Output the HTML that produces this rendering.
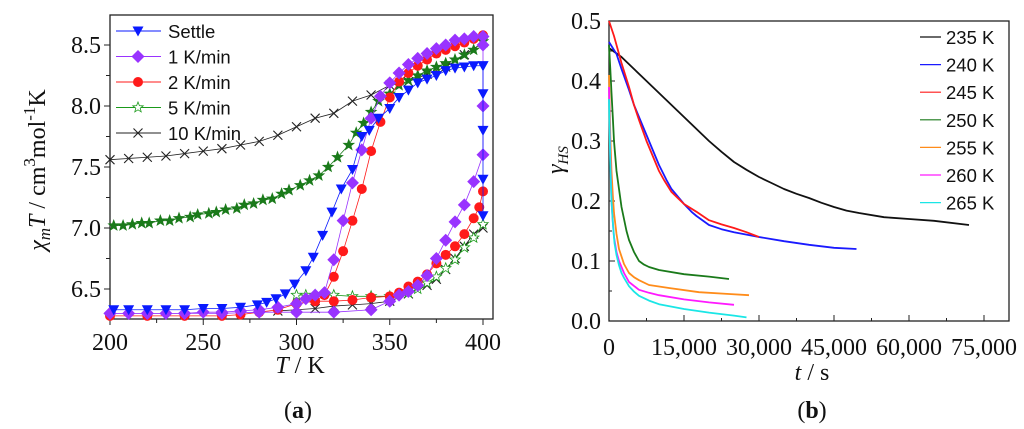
<!DOCTYPE html>
<html><head><meta charset="utf-8"><style>
body{margin:0;background:#fff;width:1024px;height:429px;overflow:hidden}
svg{display:block}
.t{font-family:"Liberation Serif",serif;font-size:24px;fill:#111}
.s{font-family:"Liberation Sans",sans-serif;font-size:18.5px;fill:#111}
</style></head><body>
<svg id="c" width="1024" height="429">
<g id="ga"></g>
<g id="gb"></g>
</svg>
<script>
// ---- Panel (a) data: [T, chiT]
const aXTicks=[200,250,300,350,400];
const aYTicks=[6.5,7.0,7.5,8.0,8.5];
const settleCool=[[400,8.33],[395,8.33],[390,8.32],[385,8.31],[380,8.29],[375,8.25],[370,8.22],[365,8.19],[360,8.13],[355,8.07],[350,7.98],[344,7.90],[339,7.80],[335,7.75],[330,7.48],[324,7.32],[319,7.13],[314,6.94],[309,6.76],[305,6.65],[299,6.54],[294,6.46],[289,6.42],[284,6.39],[279,6.37],[270,6.35],[260,6.34],[250,6.34],[240,6.33],[230,6.33],[220,6.33],[210,6.33],[202,6.33]];
const settleVert=[[400,7.10],[400,7.4],[400,7.8],[400,8.1],[400,8.33]];
const k1Heat=[[200,6.30],[220,6.30],[240,6.30],[260,6.30],[280,6.31],[300,6.31],[320,6.31],[340,6.33],[350,6.40],[355,6.45],[360,6.48],[365,6.53],[370,6.61],[375,6.75],[380,6.90],[385,7.05],[390,7.19],[395,7.38],[400,7.6],[400,8.0],[400,8.5]];
const k1Cool=[[400,8.57],[395,8.57],[390,8.55],[385,8.54],[380,8.50],[375,8.47],[370,8.43],[365,8.39],[360,8.34],[355,8.27],[350,8.19],[345,8.08],[340,7.90],[335,7.64],[330,7.37],[325,7.06],[320,6.74],[315,6.47],[310,6.45],[305,6.42],[300,6.38],[290,6.35],[280,6.33],[270,6.32],[260,6.31],[250,6.31],[240,6.30],[230,6.30],[220,6.30],[210,6.30],[200,6.30]];
const k2Cool=[[400,8.58],[395,8.55],[390,8.52],[385,8.49],[380,8.46],[375,8.43],[370,8.38],[365,8.33],[360,8.27],[355,8.20],[350,8.07],[345,7.87],[340,7.63],[335,7.32],[330,7.06],[325,6.81],[320,6.60],[315,6.45],[310,6.40],[300,6.38],[290,6.33],[280,6.31],[270,6.29],[260,6.28],[240,6.28],[220,6.28],[200,6.28]];
const k2Heat=[[300,6.38],[310,6.40],[320,6.40],[330,6.41],[340,6.43],[350,6.44],[355,6.47],[360,6.52],[365,6.56],[370,6.62],[375,6.71],[380,6.78],[385,6.85],[390,6.95],[395,7.08],[398,7.17],[400,7.3]];
const k5Cool=[[400,8.53],[395,8.46],[390,8.42],[385,8.38],[380,8.35],[375,8.32],[370,8.29],[365,8.25],[360,8.21],[355,8.17],[350,8.10],[344,8.04],[340,7.95],[336,7.86],[332,7.78],[328,7.68],[322,7.58],[317,7.50],[312,7.43],[307,7.39],[302,7.35],[296,7.31],[292,7.28],[287,7.24],[282,7.23],[277,7.20],[272,7.19],[268,7.16],[262,7.15],[257,7.13],[253,7.12],[247,7.11],[243,7.09],[237,7.08],[232,7.06],[227,7.06],[221,7.04],[217,7.04],[212,7.03],[207,7.02],[202,7.02]];
const k5Heat=[[300,6.45],[305,6.45],[310,6.45],[320,6.45],[330,6.44],[340,6.44],[350,6.44],[360,6.47],[365,6.50],[370,6.55],[375,6.60],[380,6.67],[385,6.74],[390,6.84],[395,6.92],[400,7.03]];
const k10Cool=[[400,8.52],[390,8.42],[380,8.32],[370,8.26],[360,8.20],[350,8.17],[340,8.09],[330,8.04],[320,7.94],[310,7.90],[300,7.83],[290,7.76],[280,7.71],[270,7.68],[260,7.65],[250,7.63],[240,7.61],[230,7.59],[220,7.58],[210,7.57],[200,7.56]];
const k10Heat=[[290,6.32],[300,6.33],[310,6.34],[320,6.36],[330,6.37],[340,6.38],[350,6.40],[360,6.46],[370,6.53],[375,6.58],[380,6.66],[385,6.75],[390,6.85],[395,6.95],[400,7.0]];
// ---- Panel (b) data: [t, gammaHS]
const bXTicks=[0,15000,30000,45000,60000,75000];
const bYTicks=[0.0,0.1,0.2,0.3,0.4,0.5];
const bLabels=["235 K","240 K","245 K","250 K","255 K","260 K","265 K"];
const bColors=["#111","#1a1aff","#ff1a1a","#1a7a1a","#ff8c1a","#ff1aff","#1ae6e6"];
const c235=[[0,.455],[2500,.44],[5000,.42],[7500,.40],[10000,.38],[12500,.36],[15000,.34],[17500,.32],[20000,.30],[22500,.282],[25000,.265],[27500,.252],[30000,.24],[32500,.23],[35000,.22],[37500,.212],[40000,.205],[42500,.197],[45000,.19],[47500,.184],[50000,.18],[55000,.173],[60000,.17],[65000,.167],[72000,.16]];
const c240=[[0,.465],[1500,.445],[2500,.42],[4000,.385],[5000,.36],[6000,.34],[7500,.31],[9000,.28],[10000,.26],[11500,.235],[12500,.22],[14000,.205],[15000,.195],[16500,.182],[17500,.175],[20000,.16],[22500,.153],[25000,.148],[30000,.14],[35000,.133],[40000,.127],[45000,.122],[49500,.12]];
const c245=[[0,.50],[1000,.475],[2500,.43],[4000,.39],[5000,.36],[6000,.335],[7500,.30],[9000,.27],[10000,.25],[11000,.235],[12500,.215],[14000,.203],[15000,.195],[17500,.182],[20000,.168],[22500,.161],[25000,.155],[27500,.148],[30000,.14]];
const c250=[[0,.46],[250,.42],[500,.38],[750,.34],[1000,.30],[1500,.25],[2000,.22],[2500,.19],[3000,.17],[3500,.15],[4000,.135],[5000,.115],[6000,.10],[7000,.094],[8000,.09],[10000,.085],[15000,.078],[20000,.074],[24000,.07]];
const c255=[[0,.41],[250,.31],[500,.25],[750,.21],[1000,.18],[1500,.145],[2000,.12],[3000,.095],[4000,.08],[5000,.073],[6000,.068],[8000,.06],[12000,.055],[18000,.048],[24000,.045],[28000,.043]];
const c260=[[0,.39],[250,.27],[500,.2],[750,.165],[1000,.14],[1500,.115],[2000,.10],[3000,.08],[4000,.065],[6000,.052],[8000,.047],[10000,.043],[15000,.036],[20000,.031],[25000,.027]];
const c265=[[0,.37],[150,.3],[300,.25],[500,.2],[800,.16],[1100,.13],[1500,.11],[2000,.093],[2500,.08],[3000,.072],[4000,.058],[5000,.049],[6000,.042],[8000,.034],[10000,.028],[15000,.02],[20000,.014],[25000,.009],[27500,.006]];

const NS="http://www.w3.org/2000/svg";
function mk(p,tag,at){const e=document.createElementNS(NS,tag);for(const k in at)e.setAttribute(k,at[k]);p.appendChild(e);return e;}
const ax=v=>110+(v-200)*1.865, ay=v=>289-(v-6.5)*122;
const bx=v=>609+v*0.005, by=v=>321-v*600;

const ga=document.getElementById('ga');
function frame(g,x0,y0,x1,y1){const r=mk(g,'rect',{x:x0,y:y0,width:x1-x0,height:y1-y0,fill:'none',stroke:'#222','stroke-width':1.3});}
frame(ga,110,15,493,319);
aXTicks.forEach(v=>{const x=ax(v);mk(ga,'line',{x1:x,x2:x,y1:319,y2:325,stroke:'#222'});
 const t=mk(ga,'text',{x:x,y:350,'text-anchor':'middle',class:'t'});t.textContent=v;
 if(v<400){const m=ax(v+25);mk(ga,'line',{x1:m,x2:m,y1:319,y2:323,stroke:'#222'});}});
aYTicks.forEach(v=>{const y=ay(v);mk(ga,'line',{x1:104,x2:110,y1:y,y2:y,stroke:'#222'});
 const t=mk(ga,'text',{x:101,y:y+8,'text-anchor':'end',class:'t'});t.textContent=v.toFixed(1);
 const m=ay(v+0.25);if(m>15){mk(ga,'line',{x1:106,x2:110,y1:m,y2:m,stroke:'#222'});}});
{const t=mk(ga,'text',{x:300,y:373,'text-anchor':'middle',class:'t'});t.innerHTML='<tspan font-style="italic">T</tspan> / K';}
{const t=mk(ga,'text',{x:0,y:0,'text-anchor':'middle',class:'t',transform:'translate(45,170) rotate(-90)'});
 t.innerHTML='<tspan font-style="italic">χ</tspan><tspan font-style="italic" font-size="17" dy="5">m</tspan><tspan font-style="italic" dy="-5">T</tspan> / cm<tspan font-size="17" dy="-10">3</tspan><tspan dy="10">mol</tspan><tspan font-size="17" dy="-10">-1</tspan><tspan dy="10">K</tspan>';
 }
{const t=mk(ga,'text',{x:298,y:418,'text-anchor':'middle',class:'t'});t.innerHTML='(<tspan font-weight="bold">a</tspan>)';}

function marker(g,type,x,y,col,fill){
 let e;
 if(type==='tri')e=mk(g,'polygon',{points:`${x-5.5},${y-4.5} ${x+5.5},${y-4.5} ${x},${y+5.5}`,fill:col});
 else if(type==='dia')e=mk(g,'polygon',{points:`${x},${y-6.5} ${x+6.5},${y} ${x},${y+6.5} ${x-6.5},${y}`,fill:col});
 else if(type==='cir')e=mk(g,'circle',{cx:x,cy:y,r:5,fill:col});
 else if(type==='star'){let p=[];for(let i=0;i<10;i++){const r=i%2?2.3:5.5,a=-Math.PI/2+i*Math.PI/5;p.push((x+r*Math.cos(a)).toFixed(1)+','+(y+r*Math.sin(a)).toFixed(1));}
  e=mk(g,'polygon',{points:p.join(' '),fill:fill?col:'#fff',stroke:col,'stroke-width':0.8});}
 else {e=mk(g,'path',{d:`M${x-4.5},${y-4.5}L${x+4.5},${y+4.5}M${x+4.5},${y-4.5}L${x-4.5},${y+4.5}`,stroke:col,'stroke-width':1.1,fill:'none'});}
 return e;}
function seriesA(pts,col,type,fill,name){
 const g=mk(ga,'g',{});
 mk(g,'polyline',{points:pts.map(p=>ax(p[0])+','+ay(p[1])).join(' '),fill:'none',stroke:col,'stroke-width':0.8});
 pts.forEach(p=>{const m=marker(g,type,ax(p[0]),ay(p[1]),col,fill);});}
seriesA(k10Heat,'#222','x',true,'series-10kmin-heating');
seriesA(k10Cool,'#222','x',true,'series-10kmin-cooling');
seriesA(k5Heat,'#1a9a1a','star',false,'series-5kmin-heating');
seriesA(k5Cool,'#1a7a1a','star',true,'series-5kmin-cooling');
seriesA(k2Heat,'#ff1a1a','cir',true,'series-2kmin-heating');
seriesA(k2Cool,'#ff1a1a','cir',true,'series-2kmin-cooling');
seriesA(k1Heat,'#9933ff','dia',true,'series-1kmin-heating');
seriesA(k1Cool,'#9933ff','dia',true,'series-1kmin-cooling');
seriesA(settleCool,'#0a1aff','tri',true,'series-settle');
seriesA(settleVert,'#0a1aff','tri',true,'series-settle-400k');
const legA=[['Settle','#0a1aff','tri',true],['1 K/min','#9933ff','dia',true],['2 K/min','#ff1a1a','cir',true],['5 K/min','#1a9a1a','star',false],['10 K/min','#222','x',true]];
legA.forEach((l,i)=>{const y=31+i*25.5;const g=mk(ga,'g',{});
 mk(g,'line',{x1:116,x2:161,y1:y,y2:y,stroke:l[1],'stroke-width':0.9});marker(g,l[2],138,y,l[1],l[3]);
 const t=mk(g,'text',{x:168,y:y+7,class:'s'});t.textContent=l[0];});

const gb=document.getElementById('gb');
frame(gb,609,21,1009,321);
bXTicks.forEach(v=>{const x=bx(v);mk(gb,'line',{x1:x,x2:x,y1:321,y2:315,stroke:'#222'});
 const t=mk(gb,'text',{x:x,y:355,'text-anchor':'middle',class:'t'});t.textContent=v.toLocaleString('en-US');
 if(v<75000){const m=bx(v+7500);mk(gb,'line',{x1:m,x2:m,y1:321,y2:318,stroke:'#222'});}});
bYTicks.forEach(v=>{const y=by(v);mk(gb,'line',{x1:609,x2:615,y1:y,y2:y,stroke:'#222'});
 const t=mk(gb,'text',{x:601,y:y+8,'text-anchor':'end',class:'t'});t.textContent=v.toFixed(1);
 if(v<0.5){const m=by(v+0.05);mk(gb,'line',{x1:609,x2:612,y1:m,y2:m,stroke:'#222'});}});
{const t=mk(gb,'text',{x:812,y:380,'text-anchor':'middle',class:'t'});t.innerHTML='<tspan font-style="italic">t</tspan> / s';}
{const t=mk(gb,'text',{x:0,y:0,'text-anchor':'middle',class:'t',transform:'translate(563,160) rotate(-90)'});t.innerHTML='<tspan font-style="italic">γ</tspan><tspan font-style="italic" font-size="15" dy="5">HS</tspan>';}
{const t=mk(gb,'text',{x:812,y:418,'text-anchor':'middle',class:'t'});t.innerHTML='(<tspan font-weight="bold">b</tspan>)';}
const curves=[c235,c240,c245,c250,c255,c260,c265];
curves.forEach((c,i)=>{const p=mk(gb,'polyline',{points:c.map(q=>bx(q[0]).toFixed(1)+','+by(q[1]).toFixed(1)).join(' '),fill:'none',stroke:bColors[i],'stroke-width':1.8,'stroke-linejoin':'round'});
 });
bLabels.forEach((l,i)=>{const y=37+i*27.6;const g=mk(gb,'g',{});
 mk(g,'line',{x1:920,x2:941,y1:y,y2:y,stroke:bColors[i],'stroke-width':1.2});
 const t=mk(g,'text',{x:946,y:y+7,class:'s'});t.textContent=l;});
</script>
</body></html>
